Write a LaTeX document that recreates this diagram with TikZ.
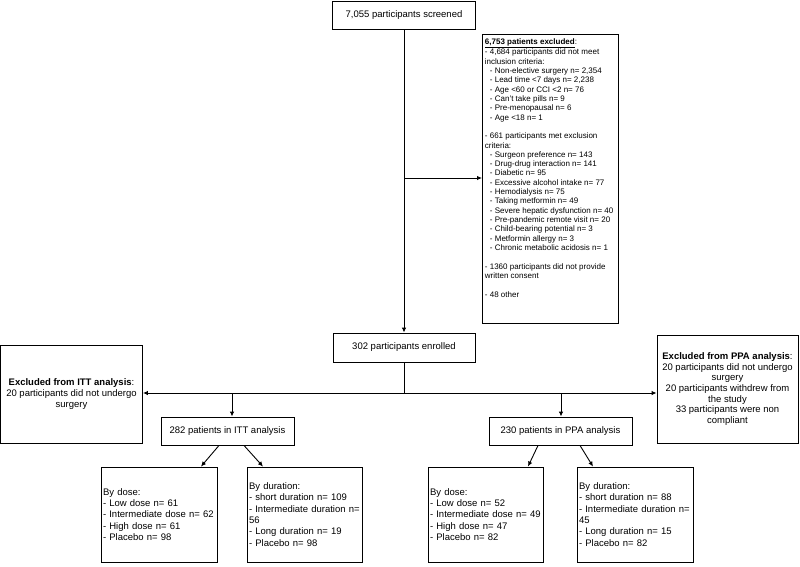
\documentclass[tikz,border=0pt]{standalone}
\usepackage{fontspec}
\setmainfont{Liberation Sans}
\usetikzlibrary{arrows.meta}
\begin{document}
\begin{tikzpicture}[x=1pt,y=-1pt,
  box/.style={draw=black,line width=0.9pt,inner sep=0pt,align=center,font=\fontsize{9.5}{11.3}\selectfont},
  arr/.style={line width=0.9pt,-{Latex[length=5pt,width=4.5pt]}},
  ln/.style={line width=0.9pt}]
\useasboundingbox (0,0) rectangle (800,566);
\fill[white] (0,0) rectangle (800,566);
\node[box,minimum width=143pt,minimum height=28pt] (screened) at (404,15) {7,055 participants screened};
\node[box,minimum width=142pt,minimum height=29pt] (enrolled) at (404,347.5) {302 participants enrolled};
\node[box,anchor=north west,inner xsep=2.5pt,inner ysep=0pt] (excl) at (482,34) {\parbox[t][289pt][t]{131pt}{\vspace*{4pt}\fontsize{8}{9.33}\selectfont\raggedright
\underline{\textbf{6,753 patients excluded}}:\\
- 4,684 participants did not meet\\
inclusion criteria:\\
\hspace*{5pt}- Non-elective surgery n= 2,354\\
\hspace*{5pt}- Lead time <7 days n= 2,238\\
\hspace*{5pt}- Age <60 or CCI <2 n= 76\\
\hspace*{5pt}- Can’t take pills n= 9\\
\hspace*{5pt}- Pre-menopausal n= 6\\
\hspace*{5pt}- Age <18 n= 1\\[9.33pt]
- 661 participants met exclusion\\
criteria:\\
\hspace*{5pt}- Surgeon preference n= 143\\
\hspace*{5pt}- Drug-drug interaction n= 141\\
\hspace*{5pt}- Diabetic n= 95\\
\hspace*{5pt}- Excessive alcohol intake n= 77\\
\hspace*{5pt}- Hemodialysis n= 75\\
\hspace*{5pt}- Taking metformin n= 49\\
\hspace*{5pt}- Severe hepatic dysfunction n= 40\\
\hspace*{5pt}- Pre-pandemic remote visit n= 20\\
\hspace*{5pt}- Child-bearing potential n= 3\\
\hspace*{5pt}- Metformin allergy n= 3\\
\hspace*{5pt}- Chronic metabolic acidosis n= 1\\[9.33pt]
- 1360 participants did not provide\\
written consent\\[9.33pt]
- 48 other}};
\node[box,minimum width=142pt,minimum height=98pt] (exitt) at (71.5,394) {\textbf{Excluded from ITT analysis}:\\20 participants did not undergo\\surgery};
\node[box,minimum width=141pt,minimum height=108pt,font=\fontsize{9.5}{10.7}\selectfont] (exppa) at (727.5,389) {\textbf{Excluded from PPA analysis}:\\20 participants did not undergo\\surgery\\20 participants withdrew from\\the study\\33 participants were non\\compliant};
\node[box,minimum width=133pt,minimum height=28pt] (itt) at (227.5,431) {282 patients in ITT analysis};
\node[box,minimum width=143pt,minimum height=28pt] (ppa) at (560.5,431) {230 patients in PPA analysis};
\node[box,minimum width=116pt,minimum height=95pt,align=left,text width=112pt] (dose1) at (159,514.5) {By dose:\\- Low dose n= 61\\- Intermediate dose n= 62\\- High dose n= 61\\- Placebo n= 98};
\node[box,minimum width=115pt,minimum height=95pt,align=left,text width=111pt] (dur1) at (304.5,514.5) {By duration:\\- short duration n= 109\\- Intermediate duration n=\\56\\- Long duration n= 19\\- Placebo n= 98};
\node[box,minimum width=115pt,minimum height=95pt,align=left,text width=111pt] (dose2) at (485.5,514.5) {By dose:\\- Low dose n= 52\\- Intermediate dose n= 49\\- High dose n= 47\\- Placebo n= 82};
\node[box,minimum width=116pt,minimum height=95pt,align=left,text width=112pt] (dur2) at (635,514.5) {By duration:\\- short duration n= 88\\- Intermediate duration n=\\45\\- Long duration n= 15\\- Placebo n= 82};
\coordinate (j1) at (404,178);
\coordinate (j2) at (404,393);
\coordinate (j3) at (232,393);
\coordinate (j4) at (561,393);
\draw[arr] (screened.south) -- (enrolled.north);
\draw[arr] (j1) -- (j1 -| excl.west);
\draw[ln] (enrolled.south) -- (j2);
\draw[arr] (j2) -- (j2 -| exitt.east);
\draw[arr] (j2) -- (j2 -| exppa.west);
\draw[arr] (j3) -- (j3 |- itt.north);
\draw[arr] (j4) -- (j4 |- ppa.north);
\draw[arr] ([xshift=-8.5pt]itt.south) -- ([xshift=42pt]dose1.north);
\draw[arr] ([xshift=16.5pt]itt.south) -- ([xshift=-41.5pt]dur1.north);
\draw[arr] ([xshift=-22.5pt]ppa.south) -- ([xshift=42.5pt]dose2.north);
\draw[arr] ([xshift=19.5pt]ppa.south) -- ([xshift=-42pt]dur2.north);
\end{tikzpicture}
\end{document}
